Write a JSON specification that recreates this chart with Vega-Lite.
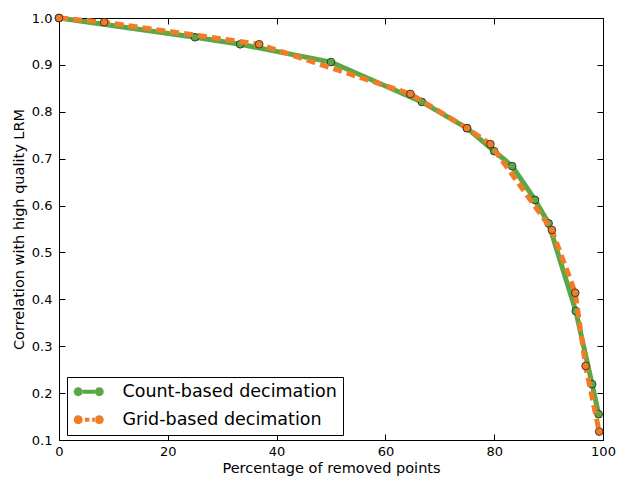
{
  "$schema": "https://vega.github.io/schema/vega-lite/v6.json",
  "autosize": "none",
  "width": 544,
  "height": 422,
  "padding": {"left": 59, "top": 18, "right": 16, "bottom": 37},
  "background": "white",
  "config": {
    "font": "DejaVu Sans",
    "view": {"stroke": "black", "strokeWidth": 1}
  },
  "data": {"values": [
    {"pct": 0, "corr": 1.0, "method": "Count-based decimation"},
    {"pct": 25, "corr": 0.959, "method": "Count-based decimation"},
    {"pct": 33.3, "corr": 0.944, "method": "Count-based decimation"},
    {"pct": 50, "corr": 0.906, "method": "Count-based decimation"},
    {"pct": 66.7, "corr": 0.821, "method": "Count-based decimation"},
    {"pct": 75, "corr": 0.765, "method": "Count-based decimation"},
    {"pct": 80, "corr": 0.716, "method": "Count-based decimation"},
    {"pct": 83.3, "corr": 0.684, "method": "Count-based decimation"},
    {"pct": 87.5, "corr": 0.612, "method": "Count-based decimation"},
    {"pct": 90, "corr": 0.562, "method": "Count-based decimation"},
    {"pct": 95, "corr": 0.375, "method": "Count-based decimation"},
    {"pct": 98, "corr": 0.219, "method": "Count-based decimation"},
    {"pct": 99.2, "corr": 0.155, "method": "Count-based decimation"},
    {"pct": 0, "corr": 1.0, "method": "Grid-based decimation"},
    {"pct": 8.3, "corr": 0.991, "method": "Grid-based decimation"},
    {"pct": 36.8, "corr": 0.944, "method": "Grid-based decimation"},
    {"pct": 64.6, "corr": 0.838, "method": "Grid-based decimation"},
    {"pct": 75, "corr": 0.765, "method": "Grid-based decimation"},
    {"pct": 79.3, "corr": 0.731, "method": "Grid-based decimation"},
    {"pct": 90.6, "corr": 0.548, "method": "Grid-based decimation"},
    {"pct": 94.9, "corr": 0.414, "method": "Grid-based decimation"},
    {"pct": 96.8, "corr": 0.258, "method": "Grid-based decimation"},
    {"pct": 99.3, "corr": 0.118, "method": "Grid-based decimation"}
  ]},
  "encoding": {
    "x": {"field": "pct", "type": "quantitative", "scale": {"domain": [0, 100], "nice": false, "zero": false}},
    "y": {"field": "corr", "type": "quantitative", "scale": {"domain": [0.1, 1.0], "nice": false, "zero": false}}
  },
  "resolve": {"axis": {"x": "independent", "y": "independent"}},
  "layer": [
    {
      "transform": [{"filter": "datum.method === 'Count-based decimation'"}],
      "mark": {"type": "line", "strokeWidth": 5, "stroke": "#5aa845"},
      "encoding": {
        "x": {"field": "pct", "type": "quantitative", "axis": {
          "orient": "bottom", "values": [0, 20, 40, 60, 80, 100], "grid": false, "labelFlush": false,
          "tickSize": -6, "tickColor": "black", "domainColor": "black", "labelPadding": 11,
          "labelFontSize": 13, "labelColor": "black", "title": "Percentage of removed points",
          "titleFontSize": 14.5, "titleFontWeight": "normal", "titleColor": "black", "titlePadding": 3
        }},
        "y": {"field": "corr", "type": "quantitative", "axis": {
          "orient": "left", "values": [0.1, 0.2, 0.3, 0.4, 0.5, 0.6, 0.7, 0.8, 0.9, 1.0], "format": ".1f", "grid": false, "labelFlush": false,
          "tickSize": -6, "tickColor": "black", "domainColor": "black", "labelPadding": 13,
          "labelFontSize": 13, "labelColor": "black", "title": "Correlation with high quality LRM",
          "titleFontSize": 14.5, "titleFontWeight": "normal", "titleColor": "black", "titlePadding": 5
        }}
      }
    },
    {
      "transform": [{"filter": "datum.method === 'Count-based decimation'"}],
      "mark": {"type": "point", "filled": true, "size": 60, "stroke": "#222", "strokeWidth": 0.8, "opacity": 1, "fill": "#5aa845"},
      "encoding": {
        "x": {"field": "pct", "type": "quantitative", "axis": {
          "orient": "top", "values": [0, 20, 40, 60, 80, 100], "grid": false, "labels": false, "title": null,
          "tickSize": -6, "tickColor": "black", "domainColor": "black"
        }},
        "y": {"field": "corr", "type": "quantitative", "axis": {
          "orient": "right", "values": [0.1, 0.2, 0.3, 0.4, 0.5, 0.6, 0.7, 0.8, 0.9, 1.0], "grid": false, "labels": false, "title": null,
          "tickSize": -6, "tickColor": "black", "domainColor": "black"
        }}
      }
    },
    {
      "transform": [{"filter": "datum.method === 'Grid-based decimation'"}],
      "mark": {"type": "line", "strokeWidth": 5, "strokeDash": [9, 5], "stroke": "#f07c28"},
      "encoding": {
        "x": {"field": "pct", "type": "quantitative", "axis": null},
        "y": {"field": "corr", "type": "quantitative", "axis": null}
      }
    },
    {
      "transform": [{"filter": "datum.method === 'Grid-based decimation'"}],
      "mark": {"type": "point", "filled": true, "size": 60, "stroke": "#222", "strokeWidth": 0.8, "opacity": 1, "fill": "#f07c28"},
      "encoding": {
        "x": {"field": "pct", "type": "quantitative", "axis": null},
        "y": {"field": "corr", "type": "quantitative", "axis": null}
      }
    },
    {
      "mark": {"type": "point", "filled": true, "opacity": 0, "size": 256},
      "encoding": {
        "x": {"field": "pct", "type": "quantitative", "axis": null},
        "y": {"field": "corr", "type": "quantitative", "axis": null},
        "color": {
          "field": "method", "type": "nominal",
          "scale": {"domain": ["Count-based decimation", "Grid-based decimation"], "range": ["#5aa845", "#f07c28"]}
        },
        "shape": {
          "field": "method", "type": "nominal",
          "scale": {"domain": ["Count-based decimation", "Grid-based decimation"], "range": [
            "M-1,0A0.56,0.56,0,1,0,0.12,0A0.56,0.56,0,1,0,-1,0ZM0.12,-0.25L1.63,-0.25L1.63,0.25L0.12,0.25ZM1.63,0A0.56,0.56,0,1,0,2.75,0A0.56,0.56,0,1,0,1.63,0Z",
            "M-1,0A0.56,0.56,0,1,0,0.12,0A0.56,0.56,0,1,0,-1,0ZM0.4,-0.25L0.95,-0.25L0.95,0.25L0.4,0.25ZM1.3,-0.25L1.7,-0.25L1.7,0.25L1.3,0.25ZM1.63,0A0.56,0.56,0,1,0,2.75,0A0.56,0.56,0,1,0,1.63,0Z"
          ]},
          "legend": {
            "orient": "none", "legendX": 8, "legendY": 359,
            "title": null,
            "symbolSize": 256,
            "labelFont": "DejaVu Sans", "labelFontSize": 17.5, "labelColor": "black", "labelOffset": 32, "labelLimit": 400,
            "rowPadding": 9, "padding": 6,
            "strokeColor": "black", "fillColor": "white",
            "symbolOpacity": 1, "symbolStrokeWidth": 0
          }
        }
      }
    }
  ]
}
